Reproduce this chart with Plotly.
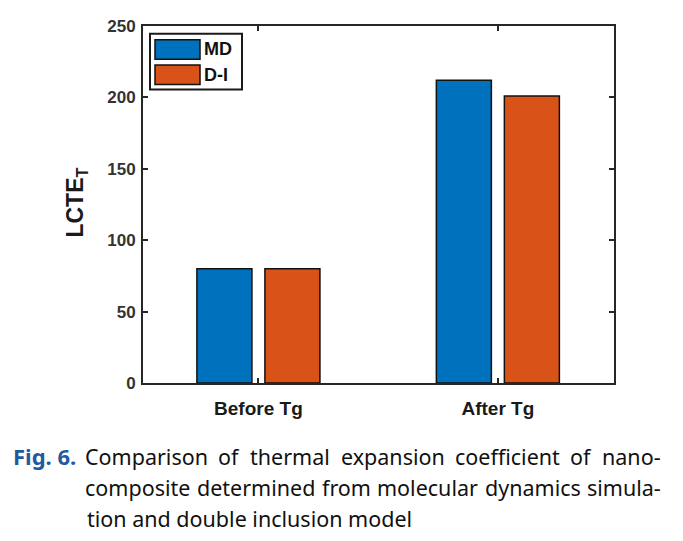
import plotly.graph_objects as go

# ---- data ----
categories = ["Before Tg", "After Tg"]
md_values = [80, 212]
di_values = [80, 201]
series_names = ["MD", "D-I"]
y_ticks = [0, 50, 100, 150, 200, 250]

caption_label = "Fig. 6."
caption_line1 = ["Comparison", "of", "thermal", "expansion", "coefficient", "of", "nano-"]
caption_line2 = ["composite", "determined", "from", "molecular", "dynamics", "simula-"]
caption_line3 = "tion and double inclusion model"

# ---- styling / layout constants (reference pixel space) ----
OFF = 8  # browser body margin
W, H = 683 - OFF, 541 - OFF
L, R, T, B = 143 - OFF, 69, 17 - OFF, 158
PW, PH = W - L - R, H - T - B
BLUE = "#0072BD"
ORANGE = "#D95319"
AXIS = "#262626"
FONT = "Arial, Liberation Sans, Helvetica, sans-serif"
CAP_FONT = "Noto Sans, Lato, sans-serif"
CAP_SIZE = 21.5
CAP_LEFT, CAP_RIGHT = 85, 661

# approximate Noto Sans advance widths (em) for justification
GLYPH_W = dict(a=.556, b=.613, c=.476, d=.613, e=.561, f=.336, g=.546, h=.614, i=.258,
               j=.258, k=.539, l=.258, m=.930, n=.614, o=.602, p=.613, q=.613, r=.408,
               s=.477, t=.353, u=.614, v=.5, w=.778, x=.519, y=.5, z=.467, C=.632)
GLYPH_W["-"] = .322


def word_w(word):
    return sum(GLYPH_W.get(ch, .55) for ch in word) * CAP_SIZE


def justify(words):
    widths = [word_w(w) for w in words]
    gap = (CAP_RIGHT - CAP_LEFT - sum(widths)) / (len(words) - 1)
    centers, x = [], CAP_LEFT
    for wd in widths:
        centers.append(x + wd / 2)
        x += wd + gap
    return centers


def px(xp):
    return (xp - OFF - L) / PW


def py(yp):
    return (H - B - (yp - OFF)) / PH


fig = go.Figure()
fig.add_trace(go.Bar(x=categories, y=md_values, name=series_names[0],
                     marker=dict(color=BLUE, line=dict(color="#111111", width=1.5))))
fig.add_trace(go.Bar(x=categories, y=di_values, name=series_names[1],
                     marker=dict(color=ORANGE, line=dict(color="#111111", width=1.5))))

fig.update_layout(
    width=W, height=H,
    margin=dict(l=L, r=R, t=T, b=B),
    paper_bgcolor="white", plot_bgcolor="white",
    barmode="group", bargap=0.432, bargroupgap=0.191,
    showlegend=False,
    font=dict(family=FONT, color=AXIS),
)
fig.update_xaxes(
    type="category", range=[-0.482, 1.485],
    showline=True, linecolor=AXIS, linewidth=2, mirror="ticks",
    ticks="inside", ticklen=5, tickwidth=1.5, tickcolor=AXIS,
    tickfont=dict(family=FONT, size=19, color="#1a1a1a", weight="bold"),
    ticklabelstandoff=7,
    showgrid=False, zeroline=False,
)
fig.update_yaxes(
    range=[0, 250], tickvals=y_ticks,
    showline=True, linecolor=AXIS, linewidth=2, mirror="ticks",
    ticks="inside", ticklen=5, tickwidth=1.5, tickcolor=AXIS,
    tickfont=dict(family=FONT, size=17, color="#333333", weight="bold"),
    ticklabelstandoff=2,
    showgrid=False, zeroline=False,
)

annotations = []
shapes = []

# y-axis title
annotations.append(dict(
    xref="paper", yref="paper", x=px(77), y=py(198),
    text="<b>LCTE<sub>T</sub></b>", textangle=-90, showarrow=False,
    font=dict(family=FONT, size=23, color="#1a1a1a"),
    xanchor="center", yanchor="middle",
))

# custom legend
shapes.append(dict(type="rect", xref="paper", yref="paper",
                   x0=px(150), x1=px(242), y0=py(25), y1=py(82),
                   line=dict(color="#1a1a1a", width=2), fillcolor="white"))
legend_rows = [(31, 51, BLUE), (57, 77, ORANGE)]
for (t, b, col), name in zip(legend_rows, series_names):
    shapes.append(dict(type="rect", xref="paper", yref="paper",
                       x0=px(155), x1=px(200), y0=py(t), y1=py(b),
                       line=dict(color="#111111", width=1.5), fillcolor=col))
    annotations.append(dict(
        xref="paper", yref="paper", x=px(202), y=py((t + b) / 2),
        text=f"<b>{name}</b>", showarrow=False, xanchor="left", yanchor="middle",
        font=dict(family=FONT, size=18, color="#111111"),
    ))

# caption
cap_y = [458, 490, 522]
annotations.append(dict(
    xref="paper", yref="paper", x=px(11), y=py(cap_y[0]),
    text=f"<b>{caption_label}</b>", showarrow=False, xanchor="left", yanchor="middle",
    font=dict(family=CAP_FONT, size=22, color="#1f5aa0"),
))
for words, yy in [(caption_line1, cap_y[0]), (caption_line2, cap_y[1])]:
    for w, xc in zip(words, justify(words)):
        annotations.append(dict(
            xref="paper", yref="paper", x=px(xc), y=py(yy),
            text=w, showarrow=False, xanchor="center", yanchor="middle",
            font=dict(family=CAP_FONT, size=CAP_SIZE, color="#111111"),
        ))
annotations.append(dict(
    xref="paper", yref="paper", x=px(CAP_LEFT), y=py(cap_y[2]),
    text=caption_line3, showarrow=False, xanchor="left", yanchor="middle",
    font=dict(family=CAP_FONT, size=CAP_SIZE, color="#111111"),
))

fig.update_layout(annotations=annotations, shapes=shapes)
fig.write_html("out.html")
